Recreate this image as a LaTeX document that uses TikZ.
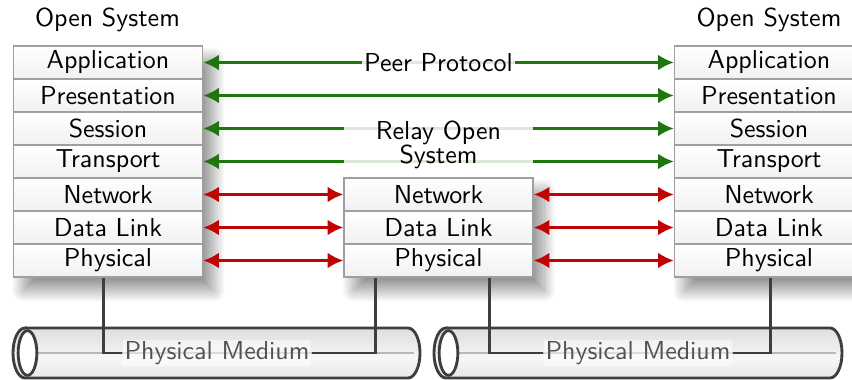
\documentclass[tikz,border=0pt]{standalone}
\usetikzlibrary{arrows.meta,shadows.blur}
\pgfdeclarelayer{background}
\pgfdeclarelayer{links}
\pgfsetlayers{background,links,main}
\definecolor{peergreen}{RGB}{30,118,12}
\definecolor{relayred}{RGB}{192,4,4}
\definecolor{wire}{RGB}{62,62,62}
\pgfdeclareverticalshading{tubeshade}{100bp}{
  color(0bp)=(gray!42); color(20bp)=(gray!22); color(45bp)=(gray!6);
  color(52bp)=(gray!12); color(80bp)=(gray!28); color(100bp)=(gray!48)}
\tikzset{
  layer/.style={draw=gray!75, line width=0.5pt, top color=white, bottom color=gray!11,
    minimum width=72.8pt, minimum height=12.7pt, inner sep=0pt, font=\sffamily},
  peer/.style={draw=peergreen, line width=0.95pt, {Latex[length=6pt,width=6pt]}-{Latex[length=6pt,width=6pt]}},
  relay/.style={draw=relayred, line width=0.95pt, {Latex[length=6pt,width=6pt]}-{Latex[length=6pt,width=6pt]}},
  tag/.style={fill=white, fill opacity=0.85, text opacity=1, inner sep=1pt, font=\sffamily},
  medium/.style={fill=white, fill opacity=0.5, text opacity=1, inner sep=0.6pt, font=\sffamily, text=black!68},
  link/.style={draw=wire, line width=1.15pt},
  stackshadow/.style={fill=white, blur shadow={shadow xshift=4pt, shadow yshift=-5pt,
    shadow blur radius=4.5pt, shadow blur steps=30, shadow opacity=42}},
  tube/.style={draw=wire, line width=1.1pt, shading=tubeshade},
}
\begin{document}
\begin{tikzpicture}[x=0.385pt, y=-0.385pt]
\useasboundingbox (0,0) rectangle (852,380);
\clip (0,0) rectangle (852,380);

% cables
\begin{pgfonlayer}{background}
\foreach \xa/\xb in {25/408, 446/830} {
  \path[tube] (\xa,328) -- (\xb,328)
    arc[start angle=90, end angle=-90, x radius=4.62pt, y radius=9.625pt]
    -- (\xa,378)
    arc[start angle=270, end angle=90, x radius=4.62pt, y radius=9.625pt] -- cycle;
  \draw[gray!55, line width=0.4pt] ({\xa+8},353) -- ({\xb+6},353);
  \draw[draw=wire, line width=1.1pt, fill=white] ({\xa+2.5},353) ellipse[x radius=3.6pt, y radius=8.6pt];
}
\end{pgfonlayer}

% protocol stacks
\foreach \t [count=\i] in {Application,Presentation,Session,Transport,Network,Data Link,Physical} {
  \node[layer] (l\i) at (108,{29.5+33*\i}) {\t};
  \node[layer] (r\i) at (769,{29.5+33*\i}) {\t};
}
\foreach \t [count=\i from 5] in {Network,Data Link,Physical} {
  \node[layer] (m\i) at (438.5,{29.5+33*\i}) {\t};
}
\begin{pgfonlayer}{background}
  \fill[stackshadow] (l1.north west) rectangle (l7.south east);
  \fill[stackshadow] (r1.north west) rectangle (r7.south east);
  \fill[stackshadow] (m5.north west) rectangle (m7.south east);
\end{pgfonlayer}

\node[font=\sffamily] (osl) at (107.5,20) {Open System};
\node[font=\sffamily] (osr) at (769,20) {Open System};

% peer-to-peer protocols
\foreach \i in {1,...,4} { \draw[peer] (l\i.east) -- (r\i.west); }
\foreach \i in {5,6,7} {
  \draw[relay] (l\i.east) -- (m\i.west);
  \draw[relay] (m\i.east) -- (r\i.west);
}
\node[tag] (pp) at (438.5,62.5) {Peer Protocol};
\node[tag, inner sep=0pt, text width=72.8pt, align=center] (ros) at (438.5,144.5) {Relay Open\\[-2.7pt]System};

% physical medium connections
\node[medium] (pm1) at (217,353) {Physical Medium};
\node[medium] (pm2) at (638,353) {Physical Medium};
\begin{pgfonlayer}{links}
\draw[link] ([xshift=-1.9pt]l7.south) |- (pm1.west);
\draw[link] ([xshift=-24.4pt]m7.south) |- (pm1.east);
\draw[link] ([xshift=19.8pt]m7.south) |- (pm2.west);
\draw[link] ([xshift=0.4pt]r7.south) |- (pm2.east);
\end{pgfonlayer}
\end{tikzpicture}
\end{document}
